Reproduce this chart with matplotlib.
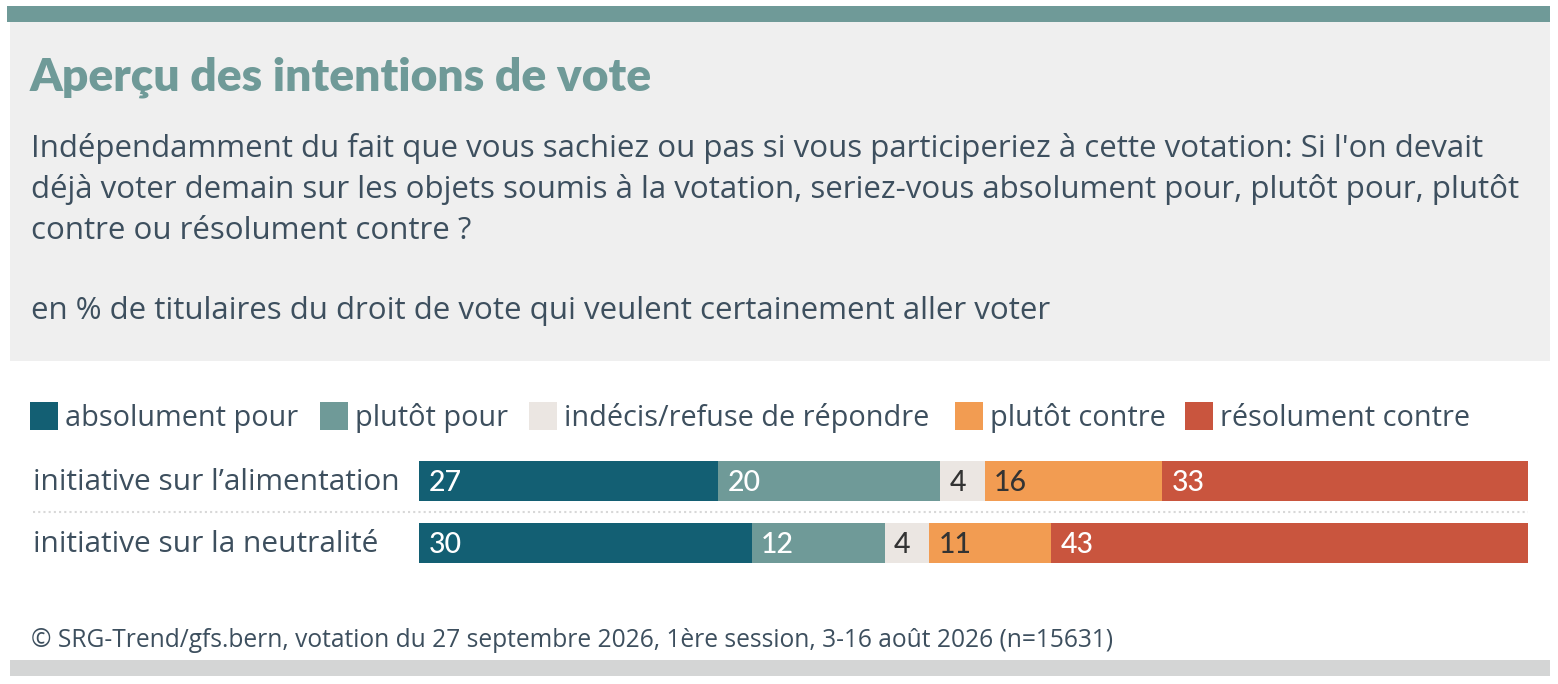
import matplotlib
matplotlib.use("Agg")
import matplotlib.pyplot as plt
from matplotlib.patches import Rectangle
import matplotlib.transforms as mtransforms

W, H = 1558, 684

title = "Aperçu des intentions de vote"
question_lines = [
    "Indépendamment du fait que vous sachiez ou pas si vous participeriez à cette votation: Si l'on devait",
    "déjà voter demain sur les objets soumis à la votation, seriez-vous absolument pour, plutôt pour, plutôt",
    "contre ou résolument contre ?",
]
base_note = "en % de titulaires du droit de vote qui veulent certainement aller voter"
source = "© SRG-Trend/gfs.bern, votation du 27 septembre 2026, 1ère session, 3-16 août 2026 (n=15631)"

categories = ["initiative sur l\u2019alimentation", "initiative sur la neutralité"]
answers = ["absolument pour", "plutôt pour", "indécis/refuse de répondre", "plutôt contre", "résolument contre"]
values = {
    "absolument pour": [27, 30],
    "plutôt pour": [20, 12],
    "indécis/refuse de répondre": [4, 4],
    "plutôt contre": [16, 11],
    "résolument contre": [33, 43],
}

colors = ["#135f73", "#6f9a98", "#ebe6e2", "#f29c52", "#c9553e"]
label_colors = ["white", "white", "#333333", "#333333", "white"]
text_col = "#3d4f5e"
body_font = ["Open Sans", "DejaVu Sans"]
title_font = ["Lato", "DejaVu Sans"]
num_font = ["Lato", "DejaVu Sans"]

fig = plt.figure(figsize=(W / 100, H / 100), dpi=100)
fig.patch.set_facecolor("white")
renderer = fig.canvas.get_renderer()


def px(x, y):
    return x / W, 1 - y / H


def fit(t, width):
    # scale font so the rendered text spans the wanted pixel width
    w = t.get_window_extent(renderer).width
    t.set_fontsize(t.get_fontsize() * width / w)
    return t


# header band, grey panel, footer band
fig.add_artist(Rectangle(px(7, 22), (1550 - 7) / W, 16 / H, transform=fig.transFigure,
                         color="#6f9a98", lw=0))
fig.add_artist(Rectangle(px(10, 361), (1550 - 10) / W, (361 - 22) / H, transform=fig.transFigure,
                         color="#efefef", lw=0))
fig.add_artist(Rectangle(px(10, 676), (1550 - 10) / W, 16 / H, transform=fig.transFigure,
                         color="#d4d5d5", lw=0))

t = fig.text(*px(30, 91), title, family=title_font, weight="heavy", color="#6f9a98",
             fontsize=30, va="baseline")
fit(t, 623)

q_texts = []
for i, line in enumerate(question_lines):
    q_texts.append(fig.text(*px(31, 157 + 41 * i), line, family=body_font, color=text_col,
                            fontsize=20, va="baseline"))
fit(q_texts[1], 1489)
for qt in q_texts:
    qt.set_fontsize(q_texts[1].get_fontsize())
fig.text(*px(31, 319), base_note, family=body_font, color=text_col,
         fontsize=q_texts[1].get_fontsize(), va="baseline")

fn = fig.text(*px(31, 647), source, family=body_font, color=text_col, fontsize=16, va="baseline")
fit(fn, 1082)

# legend
leg_x = [30, 320, 529, 955, 1185]
lt = fig.text(*px(65, 426), answers[0], family=body_font, color=text_col, fontsize=20, va="baseline")
fit(lt, 233)
leg_size = lt.get_fontsize()
lt.remove()
for x, name, c in zip(leg_x, answers, colors):
    fig.add_artist(Rectangle(px(x, 430), 28 / W, 28 / H, transform=fig.transFigure, color=c, lw=0))
    fig.text(*px(x + 35, 426), name, family=body_font, color=text_col,
             fontsize=leg_size, va="baseline")

# stacked bars
ax = fig.add_axes([419 / W, 1 - 563 / H, 1109 / W, 102 / H])
bh = 40 / 62
ypos = list(range(len(categories)))
left = [0] * len(categories)
for name, c, lc in zip(answers, colors, label_colors):
    vals = values[name]
    ax.barh(ypos, vals, left=left, height=bh, color=c, lw=0)
    for yi, v, l0 in zip(ypos, vals, left):
        ax.text(l0 + 0.85, yi + 0.03, str(v), color=lc, family=num_font, weight="medium",
                fontsize=20.5, va="center", ha="left")
    left = [a + b for a, b in zip(left, vals)]

ax.set_xlim(0, 100)
ax.set_ylim(len(categories) - 1 + bh / 2, -bh / 2)
ax.axis("off")

trans = mtransforms.blended_transform_factory(ax.transAxes, ax.transData)
ax.plot([(33 - 419) / 1109, 1], [0.5, 0.5], transform=trans, clip_on=False,
        color="#d8d8d8", lw=1.5, ls=(0, (1, 1.5)))

ct = []
for yi, cat in zip(ypos, categories):
    ct.append(fig.text(*px(33, 490 + 62 * yi), cat, family=body_font, color=text_col,
                       fontsize=20, va="baseline"))
fit(ct[0], 366)
ct[1].set_fontsize(ct[0].get_fontsize())

fig.savefig("out.png", dpi=100)
